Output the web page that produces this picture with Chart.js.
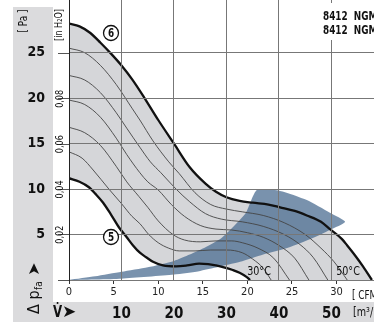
<!DOCTYPE html>
<html>
<head>
<meta charset="utf-8">
<script src="https://cdn.jsdelivr.net/npm/chart.js@4.4.0/dist/chart.umd.min.js"></script>
<style>
  html, body { margin: 0; padding: 0; background: #fff; }
</style>
</head>
<body>
<canvas id="fanChart" width="374" height="322"></canvas>
<script>
    const FONT = "'Liberation Sans Narrow', 'DejaVu Sans Condensed', 'Liberation Sans', sans-serif";

    // axis ticks
    const flowTicks = [10, 20, 30, 40, 50];          // m³/h
    const cfmTicks = [0, 5, 10, 15, 20, 25, 30];     // CFM
    const paTicks = [5, 10, 15, 20, 25];             // Pa
    const inH2OTicks = [0.02, 0.04, 0.06, 0.08];     // in H2O

    // curves: [m³/h, Pa]
    const curve6 = [[0, 28.2], [2, 27.9], [4, 27.2], [6, 26.1], [8, 24.9], [10, 23.6], [12, 22.1], [14.3, 20.1], [17, 17.6], [20, 15.0], [23, 12.4], [26, 10.6], [28, 9.7], [30, 9.1], [32.5, 8.7], [35, 8.5], [38, 8.3], [40.2, 8.0], [43, 7.6], [45.3, 7.1], [48, 6.4], [49.7, 5.6], [52, 4.5], [53, 3.8], [54.5, 2.7], [56, 1.5], [57.7, 0]];
    const curve5 = [[0, 11.2], [2, 10.8], [3.8, 10.2], [5, 9.5], [6.5, 8.5], [8, 7.2], [9.5, 5.8], [11, 4.7], [12.2, 3.8], [13.5, 3.0], [14.7, 2.5], [16, 2.0], [17.9, 1.6], [20.4, 1.5], [22.5, 1.6], [24.8, 1.8], [26.5, 1.75], [28, 1.6], [29.5, 1.4], [31.2, 1.1], [32.5, 0.8], [33.8, 0.35], [34.5, 0]];
    const speedA = [[0, 25.5], [3, 25.0], [6, 23.6], [9, 21.5], [12, 18.9], [13.5, 17.6], [16, 15.3], [19, 13.0], [21, 11.7], [24, 9.6], [27, 8.3], [30, 7.8], [33, 7.5], [37, 7.1], [41, 6.3], [45, 5.0], [48, 3.5], [50.5, 2.0], [53, 0]];
    const speedB = [[0, 22.5], [3, 22.0], [6, 20.6], [9, 18.4], [11, 16.7], [13.5, 14.6], [15.5, 13.0], [17.5, 11.8], [20.4, 10.0], [23, 8.6], [26, 7.3], [29, 6.7], [33, 6.4], [37, 5.9], [41, 5.0], [44, 3.9], [46.5, 2.5], [49.3, 0]];
    const speedC = [[0, 19.8], [3, 19.3], [6, 17.9], [9, 15.6], [11, 13.8], [13.5, 11.8], [15, 10.8], [17, 9.9], [19.5, 8.3], [22, 7.0], [25, 6.0], [28, 5.6], [31, 5.5], [34, 5.2], [37, 4.7], [40, 3.8], [43, 2.4], [45.7, 0]];
    const speedD = [[0, 16.8], [3, 16.2], [6, 14.8], [9, 12.5], [11, 10.8], [13.3, 9.2], [15, 8.0], [17, 6.5], [19.8, 5.0], [22, 4.4], [25, 4.2], [28, 4.3], [31, 4.3], [33, 4.1], [36, 3.5], [39, 2.4], [42, 0]];
    const speedE = [[0, 14.1], [2.5, 13.4], [4.6, 12.1], [7.6, 10.0], [10, 8.4], [12, 7.0], [13.5, 6.2], [15.2, 5.0], [17, 4.1], [19, 3.5], [21, 3.2], [24, 3.2], [27, 3.3], [30, 3.3], [33, 3.0], [35, 2.3], [37, 1.3], [38.5, 0]];
    // operating range (blue area), outline
    const opRange = [[0, 0], [5, 0.4], [10, 0.9], [15, 1.4], [20, 2.1], [23, 2.8], [26, 3.6], [29, 4.6], [31.2, 5.8], [33.7, 7.4], [35.8, 9.9], [40.2, 9.8], [45.3, 8.8], [49.7, 7.4], [52.6, 6.4], [49.7, 5.5], [46, 4.5], [42, 3.6], [37, 2.8], [32.6, 2.0], [25, 1.0], [20, 0.6], [10, 0.15], [0, 0]];

    const pts = arr => arr.map(p => ({ x: p[0], y: p[1] }));
    const M3H_PER_CFM = 1.699;
    const PA_PER_INH2O = 249.09;
    const X_MAX = 58.1;
    const Y_MAX = 30.8;
    const NARROW = 0.82; // horizontal squeeze, stands in for a condensed face

    Chart.defaults.font.family = FONT;
    Chart.defaults.color = '#111';

    function thin(arr) {
        return { data: pts(arr), borderColor: '#444', borderWidth: 0.9, pointRadius: 0, fill: false, cubicInterpolationMode: 'monotone', order: 5 };
    }

    // narrow text at (x, y); rot = true turns it to read upwards
    function text(c, txt, x, y, font, align, rot) {
        c.save();
        c.translate(x, y);
        if (rot) c.rotate(-Math.PI / 2);
        c.scale(NARROW, 1);
        c.font = font;
        c.textAlign = align || 'left';
        c.textBaseline = 'middle';
        c.fillText(txt, 0, 0);
        c.restore();
    }

    function circled(c, txt, x, y) {
        c.save();
        c.fillStyle = '#fff';
        c.strokeStyle = '#111';
        c.lineWidth = 1.3;
        c.beginPath();
        c.arc(x, y, 7.5, 0, Math.PI * 2);
        c.fill();
        c.stroke();
        c.fillStyle = '#111';
        text(c, txt, x, y + 0.5, 'bold 12px ' + FONT, 'center');
        c.restore();
    }

    const decor = {
        id: 'decor',
        beforeDraw(chart) {
            const c = chart.ctx;
            c.save();
            c.fillStyle = '#fff';
            c.fillRect(0, 0, chart.width, chart.height);
            c.fillStyle = '#dbdbdd';
            c.fillRect(13, 7, chart.width - 13, chart.height - 7);
            c.fillStyle = '#fff';
            c.fillRect(53, 0, chart.width - 53, 302);
            c.restore();
        },
        afterDraw(chart) {
            const c = chart.ctx;
            const y2 = chart.scales.y2;
            c.save();
            c.fillStyle = '#111';
            text(c, '[ Pa ]', 24, 21, '12px ' + FONT, 'center', true);
            text(c, '[in H\u2082O]', 59, 25, '11px ' + FONT, 'center', true);
            inH2OTicks.forEach(v => {
                text(c, v.toFixed(2).replace('.', ','), 60, y2.getPixelForValue(v), '11px ' + FONT, 'center', true);
            });

            // Δ p_fa ➤ (rotated)
            c.save();
            c.translate(35, 314);
            c.rotate(-Math.PI / 2);
            c.textBaseline = 'middle';
            c.textAlign = 'left';
            c.font = '16px ' + FONT;
            c.fillText('\u0394', 0, 0);
            let w = c.measureText('\u0394 ').width;
            c.fillText('p', w, 0);
            w += c.measureText('p').width;
            c.font = '10px ' + FONT;
            c.fillText('fa', w + 0.5, 4);
            w += c.measureText('fa').width + 6;
            c.font = '16px DejaVu Sans';
            c.fillText('\u27A4', w, 0);
            c.restore();

            // V̇ ➤
            text(c, 'V\u0307', 53, 313, 'bold 16px ' + FONT);
            c.save();
            c.font = '17px DejaVu Sans';
            c.textBaseline = 'middle';
            c.fillText('\u27A4', 62, 313);
            c.restore();

            text(c, '[m\u00B3/h]', 353, 313, '13px ' + FONT);
            text(c, '[ CFM ]', 352, 296, '12px ' + FONT);

            // model box
            c.fillStyle = '#fff';
            c.fillRect(318, 3, 56, 37);
            c.fillStyle = '#111';
            text(c, '8412  NGMV', 323, 17, 'bold 12px ' + FONT);
            text(c, '8412  NGMI', 323, 31, 'bold 12px ' + FONT);

            // temperature marks
            text(c, '30\u00B0C', 259, 272, '13px ' + FONT, 'center');
            text(c, '50\u00B0C', 348, 272, '13px ' + FONT, 'center');

            circled(c, '6', 111, 33);
            circled(c, '5', 111, 237);
            c.restore();
        }
    };

    const data = {
        datasets: [
            { data: pts(curve6), fill: 'origin', backgroundColor: '#d5d6d9', borderWidth: 0, pointRadius: 0, cubicInterpolationMode: 'monotone', order: 10 },
            { data: pts(curve5), fill: 'origin', backgroundColor: '#ffffff', borderWidth: 0, pointRadius: 0, cubicInterpolationMode: 'monotone', order: 9 },
            { data: pts(opRange), fill: 'shape', backgroundColor: 'rgba(69,104,142,0.72)', borderWidth: 0, pointRadius: 0, tension: 0.2, order: 8 },
            thin(speedA), thin(speedB), thin(speedC), thin(speedD), thin(speedE),
            { data: pts(curve6), borderColor: '#111', borderWidth: 2.3, pointRadius: 0, fill: false, cubicInterpolationMode: 'monotone', order: 1 },
            { data: pts(curve5), borderColor: '#111', borderWidth: 2.3, pointRadius: 0, fill: false, cubicInterpolationMode: 'monotone', order: 1 }
        ]
    };

    const config = {
        type: 'line',
        data: data,
        options: {
            responsive: false,
            animation: false,
            layout: { padding: 0 },
            plugins: { legend: { display: false }, tooltip: { enabled: false } },
            scales: {
                x: {
                    type: 'linear', position: 'bottom', weight: 2, min: 0, max: X_MAX,
                    afterFit: s => { s.height = 20; s.paddingLeft = 0; s.paddingRight = 0; },
                    afterBuildTicks: s => { s.ticks = [0].concat(flowTicks).map(v => ({ value: v })); },
                    ticks: { callback: v => v === 0 ? '' : v, font: { size: 15, weight: 'bold' }, padding: 3, maxRotation: 0 },
                    grid: { color: '#777', lineWidth: 1, drawTicks: false, z: 1 },
                    border: { display: false }
                },
                x2: {
                    type: 'linear', position: 'bottom', weight: 1, min: 0, max: X_MAX / M3H_PER_CFM,
                    afterFit: s => { s.height = 22; s.paddingLeft = 0; s.paddingRight = 0; },
                    afterBuildTicks: s => { s.ticks = cfmTicks.map(v => ({ value: v })); },
                    ticks: { font: { size: 11 }, padding: 2, maxRotation: 0, color: '#222' },
                    grid: { drawOnChartArea: false, drawTicks: true, tickLength: 4, color: '#333', z: 1 },
                    border: { display: true, color: '#222', width: 1, z: 1 }
                },
                y: {
                    type: 'linear', position: 'left', weight: 2, min: 0, max: Y_MAX,
                    afterFit: s => { s.width = 53; s.paddingTop = 0; s.paddingBottom = 0; },
                    afterBuildTicks: s => { s.ticks = [0].concat(paTicks).map(v => ({ value: v })); },
                    ticks: { callback: v => v === 0 ? '' : v, font: { size: 14, weight: 'bold' }, padding: 8 },
                    grid: { color: '#777', lineWidth: 1, drawTicks: false, z: 1 },
                    border: { display: false }
                },
                y2: {
                    type: 'linear', position: 'left', weight: 1, min: 0, max: Y_MAX / PA_PER_INH2O,
                    afterFit: s => { s.width = 16; s.paddingTop = 0; s.paddingBottom = 0; },
                    afterBuildTicks: s => { s.ticks = [0].concat(inH2OTicks, [0.1]).map(v => ({ value: v })); },
                    ticks: { display: false },
                    grid: { drawOnChartArea: false, drawTicks: true, tickLength: 11, color: '#555', z: 1 },
                    border: { display: true, color: '#222', width: 1, z: 1 }
                }
            }
        },
        plugins: [decor]
    };

    const fanChart = new Chart(document.getElementById('fanChart'), config);
</script>
</body>
</html>
